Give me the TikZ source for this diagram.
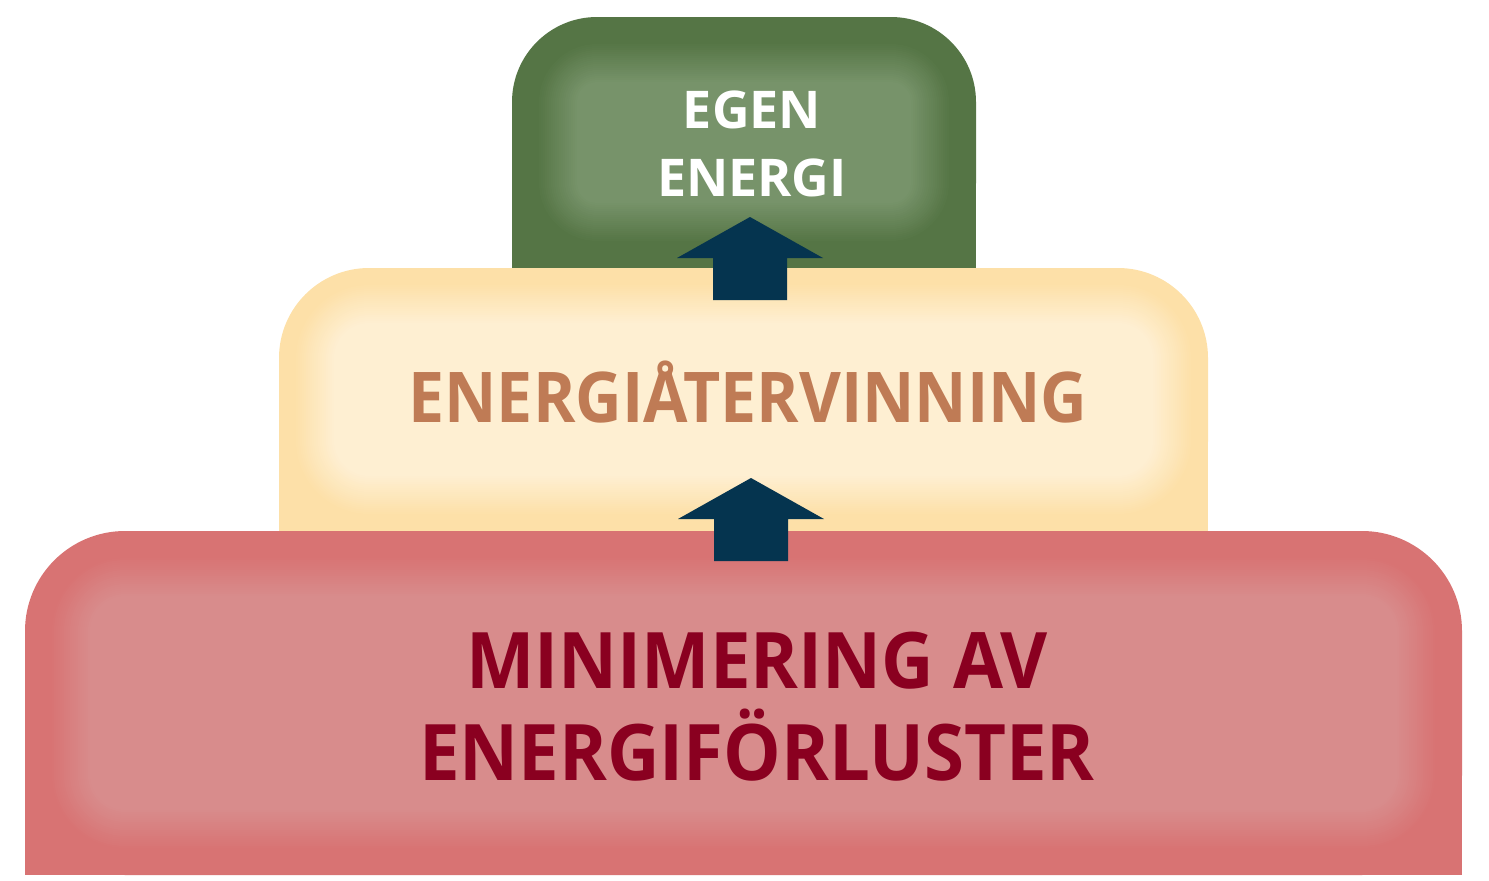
\documentclass[tikz,border=0pt]{standalone}
\usepackage{fontspec}
\setmainfont{Open Sans}
\newfontfamily\greenfont[FakeStretch=1.0]{Open Sans}
\newfontfamily\yellowfont[FakeStretch=0.92]{Open Sans}
\newfontfamily\redfont[FakeStretch=0.93]{Open Sans}
\usepackage{tikz}

\definecolor{greenout}{HTML}{557545}
\definecolor{greenin}{HTML}{77936A}
\definecolor{yellowout}{HTML}{FDE0A8}
\definecolor{yellowin}{HTML}{FEEFD2}
\definecolor{redout}{HTML}{D87373}
\definecolor{redin}{HTML}{D88C8C}
\definecolor{arrowblue}{HTML}{05344F}
\definecolor{brownlabel}{HTML}{BF7B55}
\definecolor{redlabel}{HTML}{8A0020}

% block with rounded top and a soft lighter inside
% #1,#2 top left, #3,#4 bottom right, #5 radius, #6 outer, #7 inner, #8 first inset
\newcommand{\softblock}[8]{%
    \fill[#6, rounded corners=#5pt] (#1,#2) rectangle (#3,#4);
    \fill[#6] (#1,#4-#5) rectangle (#3,#4);
    \foreach \k in {0,...,20}{
        \pgfmathsetmacro\d{#8+2*\k}
        \pgfmathtruncatemacro\p{5*\k}
        \pgfmathsetmacro\rr{max(#5-\d,15)}
        \fill[#7!\p!#6, rounded corners=\rr pt] (#1+\d,#2+\d) rectangle (#3-\d,#4-\d);
    }
}

% block arrow pointing up, tip at #1,#2
\newcommand{\uparrowat}[2]{%
    \fill[arrowblue] (#1,#2) -- (#1+73,#2+41) -- (#1+37,#2+41) -- (#1+37,#2+83)
        -- (#1-37,#2+83) -- (#1-37,#2+41) -- (#1-73,#2+41) -- cycle;
}

\tikzset{
    label/.style={inner sep=0pt, align=center},
}

\begin{document}
\begin{tikzpicture}[x=1pt, y=-1pt]
    \useasboundingbox (0,0) rectangle (1489,881);

    \softblock{512}{17}{976}{268}{85}{greenout}{greenin}{25}
    \softblock{279}{268}{1208}{531}{90}{yellowout}{yellowin}{15}
    \softblock{25}{531}{1462}{875}{100}{redout}{redin}{25}

    \uparrowat{750}{217}
    \uparrowat{751}{478}

    \node[label, text=white, font=\greenfont\bfseries\fontsize{52}{68}\selectfont] (egen) at (752,144) {EGEN\\ENERGI};
    \node[label, text=brownlabel, font=\yellowfont\bfseries\fontsize{70}{84}\selectfont] (atervinning) at (748,392) {ENERGIÅTERVINNING};
    \node[label, text=redlabel, font=\redfont\bfseries\fontsize{78}{92}\selectfont] (minimering) at (757,707) {MINIMERING AV\\ENERGIFÖRLUSTER};
\end{tikzpicture}
\end{document}
